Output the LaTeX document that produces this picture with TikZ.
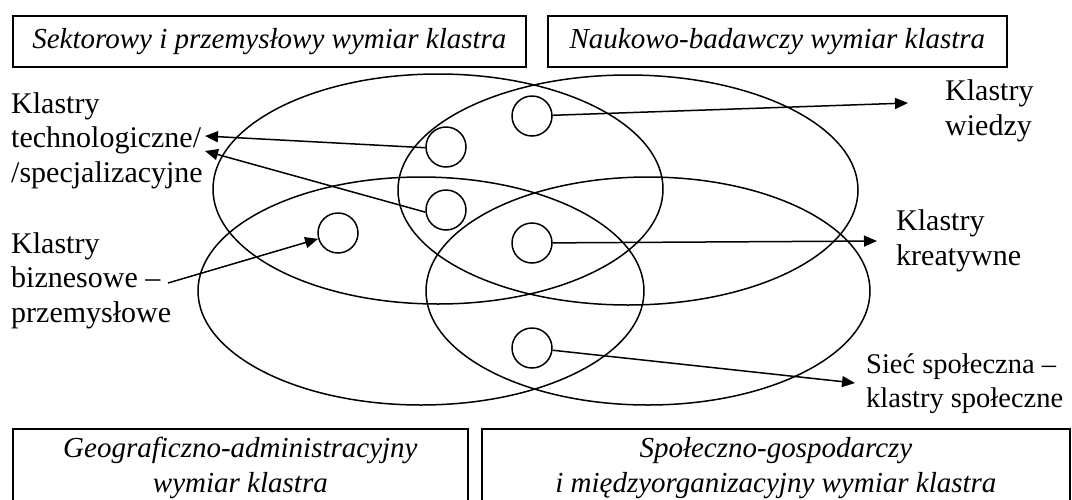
\documentclass[tikz,border=0pt]{standalone}
\usepackage{fontspec}
\setmainfont{Liberation Serif}
\usetikzlibrary{arrows.meta}
\newcommand{\lblfont}{\fontsize{30}{34.5}\selectfont}
\newcommand{\dimfont}{\fontsize{29}{34.5}\selectfont\itshape}
\begin{document}
\begin{tikzpicture}[x=1pt,y=-1pt,
  ring/.style={line width=1.5pt},
  spot/.style={circle, draw, line width=1.5pt, minimum size=40pt, inner sep=0pt},
  dimbox/.style={draw, line width=1.8pt, inner sep=0pt, font=\dimfont, align=center, anchor=north west},
  lbl/.style={inner sep=0pt, anchor=base west, align=left, font=\lblfont},
  link/.style={line width=1.5pt, -{Triangle[length=13pt,width=11pt]}}
]
\useasboundingbox (0,0) rectangle (1072,499);
\fill[white] (0,0) rectangle (1072,499);
\clip (0,0) rectangle (1072,499);

% dimension boxes
\node[dimbox, minimum width=513pt, minimum height=51pt] (sect) at (12,15) {Sektorowy i przemysłowy wymiar klastra};
\node[dimbox, minimum width=459pt, minimum height=51pt] (nauk) at (547,15) {Naukowo-badawczy wymiar klastra};
\node[dimbox, minimum width=455pt, minimum height=78pt] (geo) at (12,428) {Geograficzno-administracyjny\\wymiar klastra};
\node[dimbox, minimum width=588pt, minimum height=78pt] (spol) at (481,428) {Społeczno-gospodarczy\\i międzyorganizacyjny wymiar klastra};

% overlapping dimension ellipses
\draw[ring] (438,189) ellipse [x radius=225, y radius=115];
\draw[ring] (628,190) ellipse [x radius=230, y radius=115];
\draw[ring] (421,291) ellipse [x radius=223, y radius=114];
\draw[ring] (648,291) ellipse [x radius=222, y radius=114];

% cluster spots
\node[spot] (c1) at (532,116) {};
\node[spot] (c2) at (446,147) {};
\node[spot] (c3) at (446,210) {};
\node[spot] (c4) at (338,233) {};
\node[spot] (c5) at (532,243) {};
\node[spot] (c6) at (532,348) {};

% cluster labels (placed by the baseline of their last line)
\node[lbl] (tech) at (11,182) {Klastry\\technologiczne/\\/specjalizacyjne};
\node[lbl] (biz) at (11,322) {Klastry\\biznesowe –\\przemysłowe};
\node[lbl] (wied) at (945,135) {Klastry\\wiedzy};
\node[lbl] (kreat) at (896,265) {Klastry\\kreatywne};
\node[lbl, font=\fontsize{28.5}{34}\selectfont] (siec) at (866,407) {Sieć społeczna –\\klastry społeczne};

% arrow ends
\coordinate (techA) at (205,136);
\coordinate (techB) at (205,151);
\coordinate (bizS) at (168,283);
\coordinate (wiedA) at (908,103);
\coordinate (kreatA) at (877,241);
\coordinate (siecA) at (855,383);

\draw[link] (c2.182) -- (techA);
\draw[link] (c3.186) -- (techB);
\draw[link] (bizS) -- (c4);
\draw[link] (c1) -- (wiedA);
\draw[link] (c5) -- (kreatA);
\draw[link] (c6) -- (siecA);
\end{tikzpicture}
\end{document}
